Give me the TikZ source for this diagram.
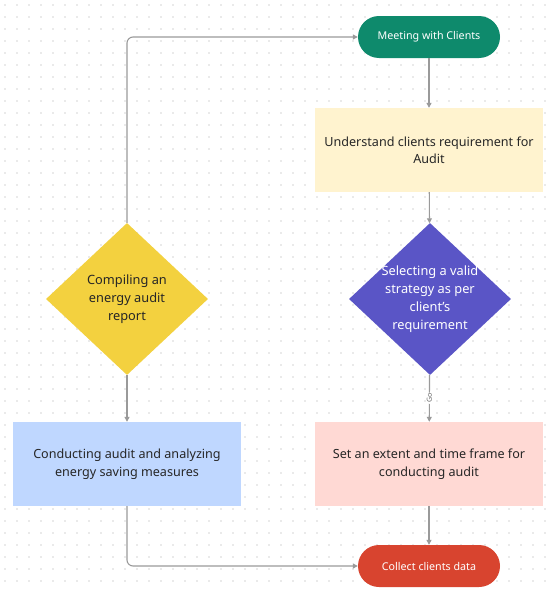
\documentclass[tikz,border=0pt]{standalone}
\usepackage{fontspec}
\setmainfont{Noto Sans}
\usetikzlibrary{shapes.geometric,shapes.misc,arrows.meta}
\definecolor{gridc}{HTML}{D6D6D6}
\definecolor{linec}{HTML}{9A9A9A}
\definecolor{greenc}{HTML}{0E8A6C}
\definecolor{redc}{HTML}{D8442F}
\definecolor{yelbox}{HTML}{FFF3CF}
\definecolor{pinkbox}{HTML}{FFD9D4}
\definecolor{bluebox}{HTML}{BFD7FF}
\definecolor{purplec}{HTML}{5A55C6}
\definecolor{yeldia}{HTML}{F3D13F}
\begin{document}
\begin{tikzpicture}[x=1pt,y=-1pt,
  pill/.style={rectangle, rounded corners=21pt, minimum width=142pt, minimum height=42pt, text=white, font=\fontsize{10.7}{12}\selectfont, inner sep=0pt},
  boxn/.style={rectangle, minimum width=228pt, minimum height=84pt, align=center, font=\fontsize{12.6}{17.5}\selectfont, text=black!85, inner sep=0pt},
  dia/.style={diamond, minimum width=162pt, minimum height=152pt, inner sep=0pt, aspect=1.066},
  diatext/.style={align=center, font=\fontsize{12.8}{18}\selectfont, inner sep=0pt},
  conn/.style={draw=linec, line width=1.1pt, -{Triangle[length=5pt,width=5pt]}, rounded corners=6pt}]
\useasboundingbox (0,0) rectangle (556,589);
\fill[white] (0,0) rectangle (556,589);
\foreach \i in {0,...,46} {\foreach \j in {0,...,48} {\fill[gridc] (5+\i*12, 5+\j*12) circle (0.9pt);}}
\node[pill, fill=greenc] (meet) at (429,37) {Meeting with Clients};
\node[boxn, fill=yelbox] (under) at (429,150) {Understand clients requirement for\\Audit};
\node[dia, fill=purplec] (strat) at (430,299) {};
\node[diatext, text=white] (strattext) at (strat.center) {Selecting a valid\\strategy as per\\client's\\requirement};
\node[boxn, fill=pinkbox] (extent) at (429,464) {Set an extent and time frame for\\conducting audit};
\node[pill, fill=redc] (collect) at (429,566) {Collect clients data};
\node[dia, fill=yeldia] (comp) at (127,299) {};
\node[diatext, text=black!85] (comptext) at (comp.center) {Compiling an\\energy audit\\report};
\node[boxn, fill=bluebox] (cond) at (127,464) {Conducting audit and analyzing\\energy saving measures};
\draw[conn] (meet) -- (under);
\draw[conn] (under) -- (strat);
\draw[conn] (strat) -- node[fill=white, inner sep=1pt, rotate=90, font=\fontsize{7}{8}\selectfont, text=black!60] {Go} (extent);
\draw[conn] (extent) -- (collect);
\draw[conn] (cond.south) -- (127,566) -- (collect.west);
\draw[conn] (comp.south) -- (cond.north);
\draw[conn] (comp.north) -- (127,37) -- (meet.west);
\end{tikzpicture}
\end{document}
